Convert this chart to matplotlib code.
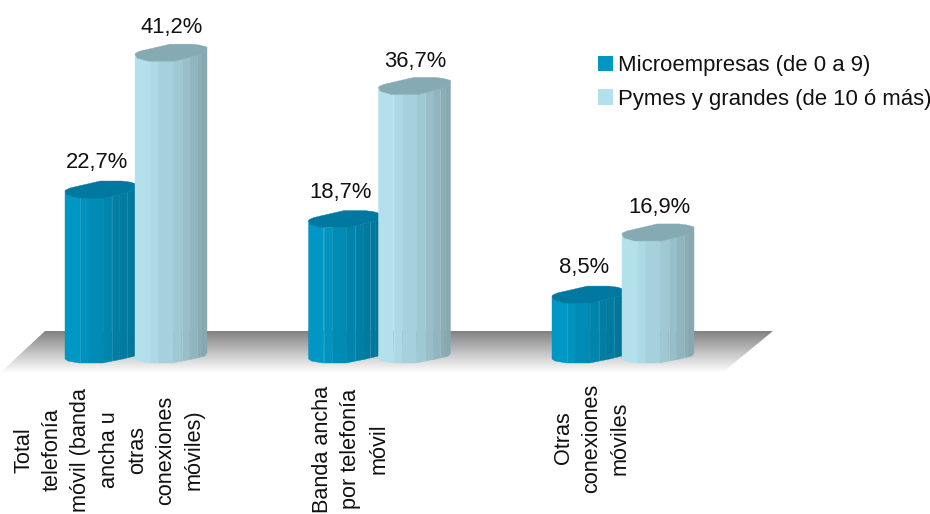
import numpy as np
import matplotlib
matplotlib.use("Agg")
import matplotlib.pyplot as plt
from matplotlib.patches import Patch, Polygon

plt.rcParams['font.family'] = ['Liberation Sans', 'DejaVu Sans']

categories = [
    "Total\ntelefonía\nmóvil (banda\nancha u\notras\nconexiones\nmóviles)",
    "Banda ancha\npor telefonía\nmóvil",
    "Otras\nconexiones\nmóviles",
]
microempresas = [22.7, 18.7, 8.5]
pymes = [41.2, 36.7, 16.9]
series_names = ["Microempresas (de 0 a 9)", "Pymes y grandes (de 10 ó más)"]

W, H = 930, 514
PX = 7.4        # pixeles por punto porcentual
BASE = 359      # y del cero en pixeles

# facetas de la barra, de izquierda a derecha
facets = [0, 0.21, 0.33, 0.53, 0.65, 0.76, 0.86, 0.93, 1]
dark_cols = ["#0097c4", "#0093bf", "#008bb5", "#0084ab", "#007ea4", "#007ba0", "#00789c", "#007598"]
light_cols = ["#b4e0eb", "#acd9e4", "#a6d0dc", "#9ec8d2", "#98bfc9", "#92b6c0", "#8badb7", "#87a8b1"]
dark_top = "#00789f"
light_top = "#86aab3"

# forma de la tapa y del pie: fraccion del ancho, desplazamiento en pixeles
top_shape = [(0, 0), (0.03, 4), (0.18, 7), (0.55, 7), (0.94, 0), (1, -3), (1, -7),
             (0.9, -9), (0.79, -10), (0.49, -10), (0.25, -6), (0.07, -3), (0.01, -1)]
bottom_front = [(0, 0), (0.04, 2), (0.2, 4), (0.52, 4), (0.8, 0), (0.97, -3), (1, -6)]


def py(pixels):
    return pixels / PX


def draw_bar(ax, left, width, value, cols, top_col, z):
    fx = np.array([p[0] for p in bottom_front])
    fy = np.array([p[1] for p in bottom_front])
    for i in range(len(cols)):
        x0 = facets[i]
        x1 = facets[i + 1]
        xs = [x0] + [f for f in fx if x0 < f < x1] + [x1]
        drops = np.interp(xs, fx, fy)
        tops = np.interp(xs, [p[0] for p in top_shape[:6]], [p[1] for p in top_shape[:6]])
        lower = [(left + x * width, -py(d)) for x, d in zip(xs, drops)]
        upper = [(left + x * width, value - py(t)) for x, t in zip(xs, tops)]
        ax.add_patch(Polygon(lower + upper[::-1], closed=True, fc=cols[i], ec=cols[i],
                             lw=0.3, zorder=z))
        # solo algunas aristas se ven claras
        if i in (1, 4, 6):
            ax.plot([left + x0 * width] * 2, [-py(drops[0]), value - py(tops[0])],
                    color="white", alpha=0.13, lw=0.7, zorder=z + 0.1)
    pts = [(left + x * width, value - py(d)) for x, d in top_shape]
    ax.add_patch(Polygon(pts, closed=True, fc=top_col, ec=top_col, lw=0.3, zorder=z + 0.2))


fig = plt.figure(figsize=(W / 100, H / 100), dpi=100)
ax = fig.add_axes([0, 0, 1, 1])
ax.set_xlim(0, W)
ax.set_ylim((BASE - H) / PX, BASE / PX)
ax.axis("off")

# suelo con degradado
floor_top = py(BASE - 331)
floor_bottom = py(BASE - 373)
grad = np.linspace(0.47, 1.0, 128).reshape(-1, 1) ** 0.9
img = ax.imshow(grad, cmap="gray", vmin=0, vmax=1, aspect="auto", zorder=1,
                extent=[0, 775, floor_bottom, floor_top])
floor = Polygon([(45, floor_top), (773, floor_top), (722, floor_bottom), (0, floor_bottom)],
                closed=True, transform=ax.transData, fc="none", ec="none")
ax.add_patch(floor)
img.set_clip_path(floor)
ax.set_xlim(0, W)
ax.set_ylim((BASE - H) / PX, BASE / PX)

first_left = 65
spacing = 243.5
bar_w = 72
label_dx = [44, 42, 40]
for i, cat in enumerate(categories):
    left = first_left + i * spacing
    draw_bar(ax, left, bar_w, microempresas[i], dark_cols, dark_top, 2 + i)
    draw_bar(ax, left + 70, bar_w, pymes[i], light_cols, light_top, 2.5 + i)
    ax.annotate(f"{microempresas[i]:.1f}%".replace(".", ","), (left + 32, microempresas[i]),
                xytext=(0, 20.5), textcoords="offset points", ha="center", va="center",
                fontsize=15.8, color="#111111", zorder=10)
    ax.annotate(f"{pymes[i]:.1f}%".replace(".", ","), (left + 107, pymes[i]),
                xytext=(0, 19), textcoords="offset points", ha="center", va="center",
                fontsize=15.8, color="#111111", zorder=10)
    label_y = [450, 449, 438][i]
    ax.text(left + label_dx[i], py(BASE - label_y), cat, rotation=90, ha="center", va="center",
            multialignment="center", fontsize=15.6, linespacing=1.45, color="#111111")

handles = [Patch(fc="#0097c4", ec="none"), Patch(fc="#b4e0eb", ec="none")]
ax.legend(handles, series_names, loc="upper left", bbox_to_anchor=(598 / W, 1 - 55 / H),
          frameon=False, fontsize=15.9, labelcolor="#111111", handlelength=0.7,
          handleheight=0.7, handletextpad=0.22, labelspacing=0.58, borderpad=0, borderaxespad=0)

fig.savefig("out.png", dpi=100)
